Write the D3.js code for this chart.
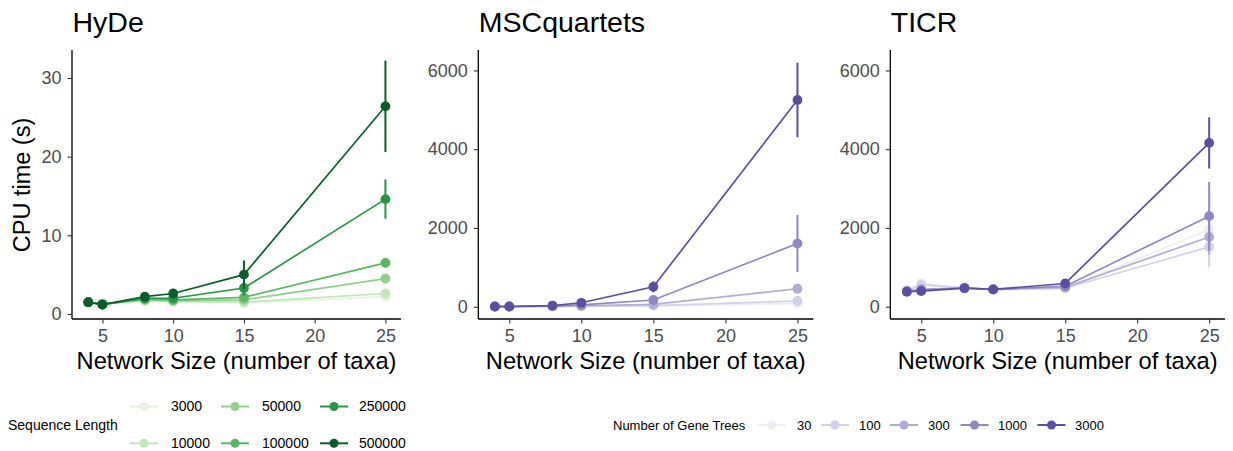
<!DOCTYPE html>
<html><head><meta charset="utf-8">
<script src="https://cdn.jsdelivr.net/npm/d3@7"></script>
<style>body{margin:0;background:#fff;} text{font-family:"Liberation Sans",Arial,Helvetica,sans-serif;}</style>
</head><body>
<svg id="c" width="1233" height="451"></svg>
<script>
// ---------- data ----------
const taxa = [4, 5, 8, 10, 15, 25];
const xTicks = [5, 10, 15, 20, 25];

const seqLengths = ["3000", "10000", "50000", "100000", "250000", "500000"];
const greenColors = ["#e5f5e0", "#c0e6b9", "#8fd18a", "#5ab963", "#2a9446", "#0b5e2a"];
const hyde3000   = [1.5, 1.3, 1.6, 1.5, 1.4, 2.2];
const hyde10000  = [1.5, 1.3, 1.7, 1.6, 1.5, 2.6];
const hyde50000  = [1.5, 1.3, 1.8, 1.7, 1.8, 4.5];
const hyde100000 = [1.5, 1.2, 1.9, 1.8, 2.1, 6.5];
const hyde250000 = [1.5, 1.2, 2.0, 2.0, 3.3, 14.6];
const hyde500000 = [1.5, 1.2, 2.2, 2.6, 5.0, 26.4];
const hyde3000Err   = [0.1, 0.1, 0.1, 0.1, 0.1, 0.2];
const hyde10000Err  = [0.1, 0.1, 0.1, 0.1, 0.2, 0.3];
const hyde50000Err  = [0.1, 0.1, 0.1, 0.1, 0.3, 0.6];
const hyde100000Err = [0.1, 0.1, 0.1, 0.1, 0.4, 0.6];
const hyde250000Err = [0.1, 0.1, 0.1, 0.2, 1.0, 2.5];
const hyde500000Err = [0.15, 0.1, 0.2, 0.2, 1.8, 5.8];
const hydeTicks = [0, 10, 20, 30];

const geneTrees = ["30", "100", "300", "1000", "3000"];
const purpleColors = ["#efedf5", "#d3d2e8", "#b0aed6", "#8e88c3", "#5e4ea2"];
const msc30   = [2, 2, 5, 8, 15, 80];
const msc100  = [2, 3, 8, 15, 30, 145];
const msc300  = [3, 4, 12, 25, 60, 456];
const msc1000 = [4, 5, 20, 45, 170, 1604];
const msc3000 = [5, 6, 30, 100, 506, 5250];
const msc30Err   = [1, 1, 2, 3, 5, 30];
const msc100Err  = [1, 1, 2, 4, 10, 50];
const msc300Err  = [1, 1, 3, 6, 20, 90];
const msc1000Err = [1, 1, 4, 10, 40, 725];
const msc3000Err = [1, 1, 6, 20, 140, 945];

const ticr30   = [420, 600, 470, 430, 460, 1960];
const ticr100  = [410, 560, 470, 430, 470, 1520];
const ticr300  = [400, 450, 470, 440, 490, 1770];
const ticr1000 = [390, 420, 480, 440, 520, 2300];
const ticr3000 = [380, 395, 470, 440, 590, 4160];
const ticr30Err   = [30, 40, 30, 30, 40, 1000];
const ticr100Err  = [30, 40, 30, 30, 40, 500];
const ticr300Err  = [30, 30, 30, 30, 50, 450];
const ticr1000Err = [30, 30, 30, 30, 60, 870];
const ticr3000Err = [30, 30, 30, 30, 80, 650];
const bigTicks = [0, 2000, 4000, 6000];

const panels = [
  {title: "HyDe", x0: 72, x1: 401, yDom: [-0.64, 33.56], ticks: hydeTicks, colors: greenColors,
   series: [hyde3000, hyde10000, hyde50000, hyde100000, hyde250000, hyde500000],
   errs: [hyde3000Err, hyde10000Err, hyde50000Err, hyde100000Err, hyde250000Err, hyde500000Err]},
  {title: "MSCquartets", x0: 478.3, x1: 813.3, yDom: [-312, 6519], ticks: bigTicks, colors: purpleColors,
   series: [msc30, msc100, msc300, msc1000, msc3000],
   errs: [msc30Err, msc100Err, msc300Err, msc1000Err, msc3000Err]},
  {title: "TICR", x0: 890.3, x1: 1225, yDom: [-312, 6519], ticks: bigTicks, colors: purpleColors,
   series: [ticr30, ticr100, ticr300, ticr1000, ticr3000],
   errs: [ticr30Err, ticr100Err, ticr300Err, ticr1000Err, ticr3000Err]}
];

// ---------- drawing ----------
const svg = d3.select("#c");
const yTop = 50, yBot = 319;
const xDom = [2.85, 26.1];

panels.forEach((p, pi) => {
  const x = d3.scaleLinear().domain(xDom).range([p.x0, p.x1]);
  const y = d3.scaleLinear().domain(p.yDom).range([yBot, yTop]);
  const g = svg.append("g");

  p.series.forEach((vals, si) => {
    const col = p.colors[si];
    const pts = taxa.map((t, i) => ({x: t, y: vals[i], e: p.errs[si][i]}));
    const sg = g.append("g");
    sg.selectAll("line.err").data(pts).enter().append("line")
      .attr("x1", d => x(d.x)).attr("x2", d => x(d.x))
      .attr("y1", d => y(d.y - d.e)).attr("y2", d => y(d.y + d.e))
      .attr("stroke", col).attr("stroke-width", 2);
    sg.append("path").datum(pts)
      .attr("d", d3.line().x(d => x(d.x)).y(d => y(d.y)))
      .attr("fill", "none").attr("stroke", col).attr("stroke-width", 1.7);
    sg.selectAll("circle").data(pts).enter().append("circle")
      .attr("cx", d => x(d.x)).attr("cy", d => y(d.y)).attr("r", 4.9)
      .attr("fill", col);
  });

  const xa = g.append("g").attr("transform", `translate(0,${yBot})`)
    .call(d3.axisBottom(x).tickValues(xTicks).tickSize(4.5).tickPadding(6).tickSizeOuter(0).tickFormat(d3.format("d")));
  const ya = g.append("g").attr("transform", `translate(${p.x0},0)`)
    .call(d3.axisLeft(y).tickValues(p.ticks).tickSize(4.5).tickPadding(6).tickSizeOuter(0).tickFormat(d3.format("d")));
  [xa, ya].forEach(a => {
    a.select(".domain").attr("stroke", "#000").attr("stroke-width", 1.3);
    a.selectAll(".tick line").attr("stroke", "#333").attr("stroke-width", 1.1);
    a.selectAll(".tick text").attr("fill", "#4d4d4d").style("font-size", "18px");
  });
  xa.select(".domain").attr("d", `M${p.x0},0H${p.x1}`);
  ya.select(".domain").attr("d", `M0,${yBot}V${yTop}`);

  g.append("text").attr("x", p.x0 + 0.5).attr("y", 32).text(p.title)
    .style("font-size", "28.5px").attr("fill", "#000");
  g.append("text").attr("x", (p.x0 + p.x1) / 2).attr("y", 369).attr("text-anchor", "middle")
    .text("Network Size (number of taxa)").style("font-size", "23.7px").attr("fill", "#000");
  if (pi === 0) {
    g.append("text").attr("transform", `translate(30,185) rotate(-90)`).attr("text-anchor", "middle")
      .text("CPU time (s)").style("font-size", "23.5px").attr("fill", "#000");
  }
});

// ---------- legends ----------
function key(gr, cx, cy, col) {
  gr.append("line").attr("x1", cx - 14).attr("x2", cx + 14).attr("y1", cy).attr("y2", cy)
    .attr("stroke", col).attr("stroke-width", 2);
  gr.append("circle").attr("cx", cx).attr("cy", cy).attr("r", 4.5).attr("fill", col);
}
const lg1 = svg.append("g");
lg1.append("text").attr("x", 8).attr("y", 425.5).attr("dy", "0.35em").text("Sequence Length")
  .style("font-size", "14px").attr("fill", "#000");
const l1cols = [144, 235, 334];
const l1labx = [171, 262, 359];
const l1rows = [406.5, 443.3];
seqLengths.forEach((s, i) => {
  const c = Math.floor(i / 2), r = i % 2;
  key(lg1, l1cols[c], l1rows[r], greenColors[i]);
  lg1.append("text").attr("x", l1labx[c]).attr("y", l1rows[r]).attr("dy", "0.35em").text(s)
    .style("font-size", "14px").attr("fill", "#000");
});

const lg2 = svg.append("g");
lg2.append("text").attr("x", 613).attr("y", 425).attr("dy", "0.35em").text("Number of Gene Trees")
  .style("font-size", "13px").attr("fill", "#000");
const l2keys = [771.5, 835, 904, 974.5, 1051.5];
const l2labs = [797, 859, 928, 998, 1075];
geneTrees.forEach((s, i) => {
  key(lg2, l2keys[i], 425, purpleColors[i]);
  lg2.append("text").attr("x", l2labs[i]).attr("y", 425).attr("dy", "0.35em").text(s)
    .style("font-size", "13px").attr("fill", "#000");
});
</script>
</body></html>
